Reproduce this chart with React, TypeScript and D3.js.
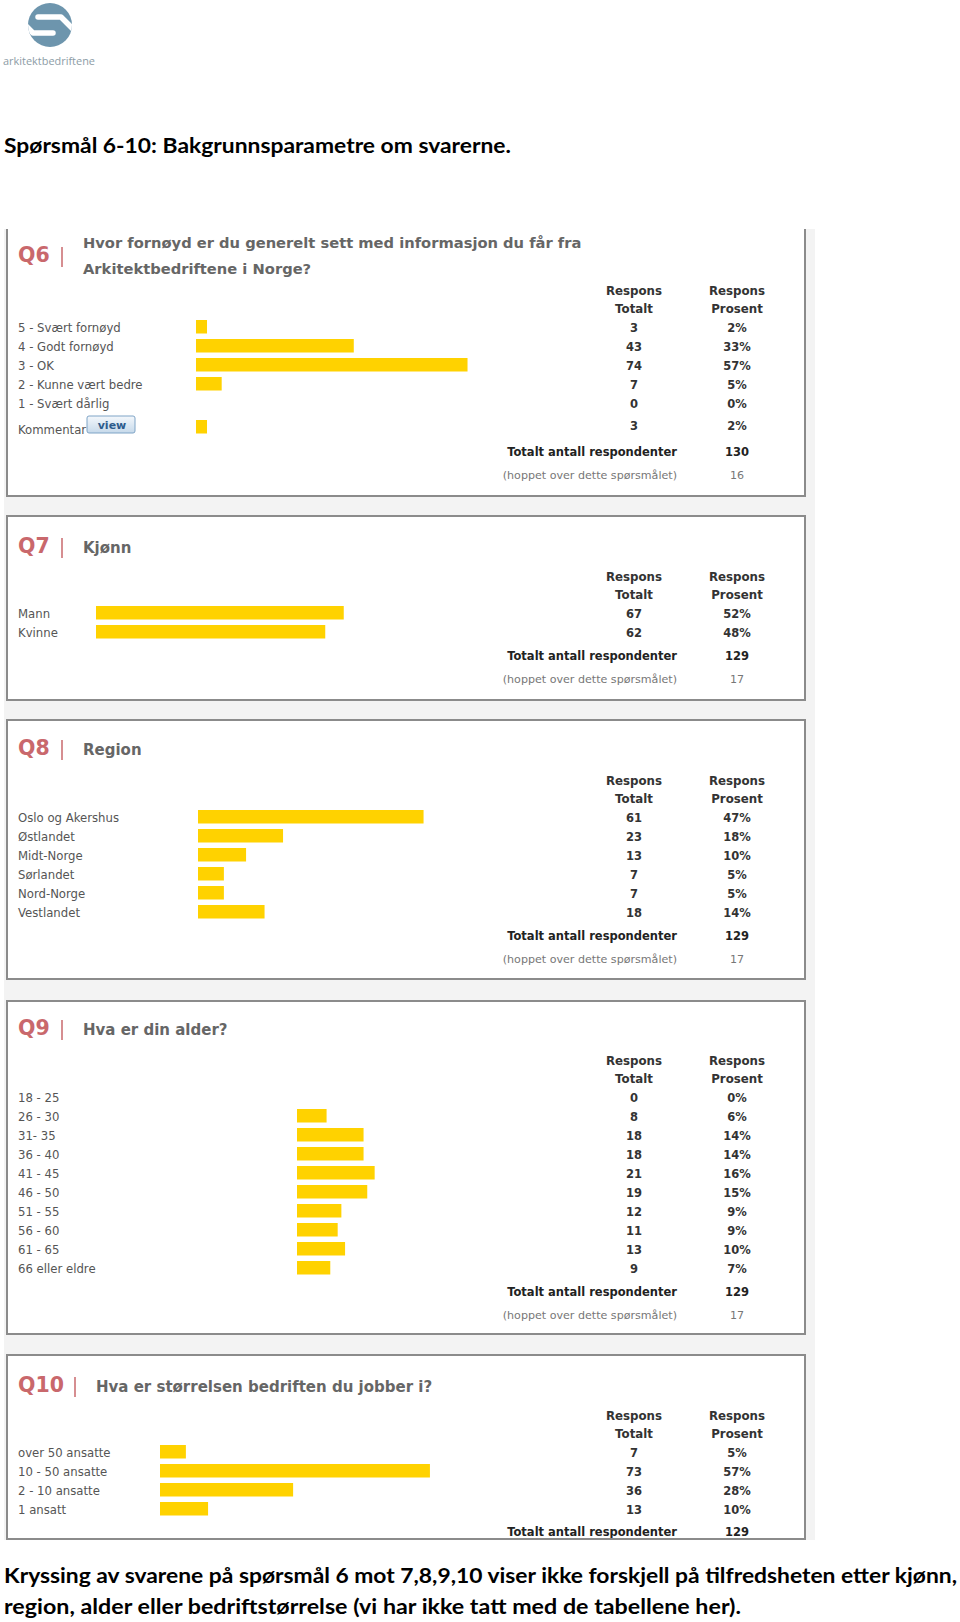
import React from "react";
import * as d3 from "d3";

// ---- data ----
const q6Labels = ["5 - Svært fornøyd", "4 - Godt fornøyd", "3 - OK", "2 - Kunne vært bedre", "1 - Svært dårlig", "Kommentar"];
const q6Values = [3, 43, 74, 7, 0, 3];
const q6Percent = ["2%", "33%", "57%", "5%", "0%", "2%"];
const q6Total = 130;
const q6Skipped = 16;

const q7Labels = ["Mann", "Kvinne"];
const q7Values = [67, 62];
const q7Percent = ["52%", "48%"];
const q7Total = 129;
const q7Skipped = 17;

const q8Labels = ["Oslo og Akershus", "Østlandet", "Midt-Norge", "Sørlandet", "Nord-Norge", "Vestlandet"];
const q8Values = [61, 23, 13, 7, 7, 18];
const q8Percent = ["47%", "18%", "10%", "5%", "5%", "14%"];
const q8Total = 129;
const q8Skipped = 17;

const q9Labels = ["18 - 25", "26 - 30", "31- 35", "36 - 40", "41 - 45", "46 - 50", "51 - 55", "56 - 60", "61 - 65", "66 eller eldre"];
const q9Values = [0, 8, 18, 18, 21, 19, 12, 11, 13, 9];
const q9Percent = ["0%", "6%", "14%", "14%", "16%", "15%", "9%", "9%", "10%", "7%"];
const q9Total = 129;
const q9Skipped = 17;

const q10Labels = ["over 50 ansatte", "10 - 50 ansatte", "2 - 10 ansatte", "1 ansatt"];
const q10Values = [7, 73, 36, 13];
const q10Percent = ["5%", "57%", "28%", "10%"];
const q10Total = 129;

const headline = "Spørsmål 6-10: Bakgrunnsparametre om svarerne.";
const footer = [
  "Kryssing av svarene på spørsmål 6 mot 7,8,9,10 viser ikke forskjell på tilfredsheten etter kjønn,",
  "region, alder eller bedriftstørrelse (vi har ikke tatt med de tabellene her).",
];

// ---- styling ----
const W = 960;
const H = 1622;
const BAR = "#ffd200";
const QRED = "#c9686c";
const FONT = "'DejaVu Sans', Verdana, sans-serif";
const DOC_FONT = "Lato, 'Open Sans', sans-serif";
const ROW = 19;
const FULL = 477; // bar length for 100 %

type PanelCfg = {
  q: string;
  title: string[];
  titleSize?: number;
  labels: string[];
  values: number[];
  percent: string[];
  total: number;
  skipped?: number;
  top: number;
  bottom: number;
  noTop?: boolean;
  qY: number;
  titleY: number[];
  sepX: number;
  titleX: number;
  headY: number;
  firstRow: number;
  barX: number;
  totalY: number;
  skipY?: number;
  commentRow?: number; // index of the taller "Kommentar" row
};

const panels: PanelCfg[] = [
  {
    q: "Q6", title: ["Hvor fornøyd er du generelt sett med informasjon du får fra", "Arkitektbedriftene i Norge?"], titleSize: 14.7,
    labels: q6Labels, values: q6Values, percent: q6Percent, total: q6Total, skipped: q6Skipped,
    top: 229, bottom: 496, noTop: true, qY: 262, titleY: [248, 274], sepX: 62, titleX: 83,
    headY: 295, firstRow: 332, barX: 196, totalY: 456, skipY: 479, commentRow: 5,
  },
  {
    q: "Q7", title: ["Kjønn"], labels: q7Labels, values: q7Values, percent: q7Percent, total: q7Total, skipped: q7Skipped,
    top: 516, bottom: 700, qY: 553, titleY: [553], sepX: 62, titleX: 83,
    headY: 581, firstRow: 618, barX: 96, totalY: 660, skipY: 683,
  },
  {
    q: "Q8", title: ["Region"], labels: q8Labels, values: q8Values, percent: q8Percent, total: q8Total, skipped: q8Skipped,
    top: 720, bottom: 979, qY: 755, titleY: [755], sepX: 62, titleX: 83,
    headY: 785, firstRow: 822, barX: 198, totalY: 940, skipY: 963,
  },
  {
    q: "Q9", title: ["Hva er din alder?"], labels: q9Labels, values: q9Values, percent: q9Percent, total: q9Total, skipped: q9Skipped,
    top: 1001, bottom: 1334, qY: 1035, titleY: [1035], sepX: 62, titleX: 83,
    headY: 1065, firstRow: 1102, barX: 297, totalY: 1296, skipY: 1319,
  },
  {
    q: "Q10", title: ["Hva er størrelsen bedriften du jobber i?"], labels: q10Labels, values: q10Values, percent: q10Percent, total: q10Total,
    top: 1355, bottom: 1539, qY: 1392, titleY: [1392], sepX: 75, titleX: 96,
    headY: 1420, firstRow: 1457, barX: 160, totalY: 1536,
  },
];

const L = 7;
const R = 805;
const COL1 = 634;
const COL2 = 737;
const TOT_END = 677;

function Panel({ p }: { p: PanelCfg }) {
  const x = d3.scaleLinear().domain([0, 1]).range([0, FULL]);
  const y = d3
    .scaleBand<string>()
    .domain(p.labels)
    .range([p.firstRow - 14, p.firstRow - 14 + p.labels.length * ROW]);
  const isComment = (i: number) => p.commentRow === i;
  const base = (l: string) => (y(l) as number) + 14;

  const border = p.noTop
    ? `M${L},${p.top}V${p.bottom}H${R}V${p.top}`
    : `M${L},${p.top}H${R}V${p.bottom}H${L}Z`;

  return (
    <g fontFamily={FONT}>
      <rect x={L} y={p.top} width={R - L} height={p.bottom - p.top} fill="#fff" />
      <text x={18} y={p.qY} fontSize={20.5} fontWeight="bold" fill={QRED}>{p.q}</text>
      <line x1={p.sepX} x2={p.sepX} y1={p.qY - 15} y2={p.qY + 5} stroke={QRED} strokeWidth={1.5} />
      {p.title.map((t, i) => (
        <text key={i} x={p.titleX} y={p.titleY[i]} fontSize={p.titleSize ?? 15} fontWeight="bold" fill="#666">{t}</text>
      ))}

      <g fontSize={11.8} fontWeight="bold" fill="#333" textAnchor="middle">
        <text x={COL1} y={p.headY}>Respons</text>
        <text x={COL1} y={p.headY + 18}>Totalt</text>
        <text x={COL2} y={p.headY}>Respons</text>
        <text x={COL2} y={p.headY + 18}>Prosent</text>
      </g>

      {p.labels.map((l, i) => {
        const b = base(l);
        const labelY = b + (isComment(i) ? 7 : 0);
        const barY = b - 12 + (isComment(i) ? 5 : 0);
        const valY = b + (isComment(i) ? 3 : 0);
        return (
          <g key={l}>
            <text x={18} y={labelY} fontSize={11.7} fill="#555">{l}</text>
            {p.values[i] > 0 && (
              <rect x={p.barX} y={barY} width={x(p.values[i] / p.total)} height={13.5} fill={BAR} />
            )}
            <g fontSize={11.5} fontWeight="bold" fill="#333" textAnchor="middle">
              <text x={COL1} y={valY}>{p.values[i]}</text>
              <text x={COL2} y={valY}>{p.percent[i]}</text>
            </g>
          </g>
        );
      })}

      {p.commentRow !== undefined && (
        <g>
          <defs>
            <linearGradient id="viewGrad" x1="0" x2="0" y1="0" y2="1">
              <stop offset="0" stopColor="#f4f8fc" />
              <stop offset="1" stopColor="#c6d9ea" />
            </linearGradient>
          </defs>
          <rect x={87} y={416} width={48} height={17} rx={2} fill="url(#viewGrad)" stroke="#7fa4c6" strokeWidth={1} />
          <text x={112} y={428.5} fontSize={11} fontWeight="bold" fill="#2d5b8c" textAnchor="middle">view</text>
        </g>
      )}

      <text x={TOT_END} y={p.totalY} fontSize={11.5} fontWeight="bold" fill="#222" textAnchor="end">Totalt antall respondenter</text>
      <text x={COL2} y={p.totalY} fontSize={11.5} fontWeight="bold" fill="#222" textAnchor="middle">{p.total}</text>
      {p.skipped !== undefined && p.skipY !== undefined && (
        <g fontSize={11.1} fill="#777">
          <text x={TOT_END} y={p.skipY} textAnchor="end">(hoppet over dette spørsmålet)</text>
          <text x={COL2} y={p.skipY} textAnchor="middle">{p.skipped}</text>
        </g>
      )}

      <path d={border} fill="none" stroke="#8b8b8b" strokeWidth={2} />
    </g>
  );
}

function Logo() {
  return (
    <g>
      <defs>
        <clipPath id="logoClip">
          <circle cx={50} cy={25} r={22} />
        </clipPath>
      </defs>
      <circle cx={50} cy={25} r={22} fill="#6d95ad" />
      <g clipPath="url(#logoClip)" fill="none" stroke="#fff" strokeWidth={5.5} strokeLinecap="round" strokeLinejoin="round">
        <path d="M38,17H61L74,30" />
        <path d="M24,24L33,33H53" />
      </g>
      <text x={3} y={65} fontFamily="'Open Sans', sans-serif" fontSize={11.5} fill="#8d9ca6" textLength={92} lengthAdjust="spacingAndGlyphs">
        arkitektbedriftene
      </text>
    </g>
  );
}

export default function App() {
  return (
    <svg
      width={W}
      height={H}
      viewBox={`0 0 ${W} ${H}`}
      style={{ position: "absolute", left: 0, top: 0, background: "#fff" }}
    >
      <rect width={W} height={H} fill="#fff" />
      <Logo />
      <text x={4} y={153} fontFamily={DOC_FONT} fontSize={20} fontWeight="bold" fill="#000" textLength={507} lengthAdjust="spacingAndGlyphs">
        {headline}
      </text>

      <rect x={4} y={229} width={811} height={1311} fill="#f3f3f3" />
      {panels.map((p) => (
        <Panel key={p.q} p={p} />
      ))}

      <text x={4} y={1583} fontFamily={DOC_FONT} fontSize={20} fontWeight="bold" fill="#000" textLength={953} lengthAdjust="spacingAndGlyphs">
        {footer[0]}
      </text>
      <text x={4} y={1614} fontFamily={DOC_FONT} fontSize={20} fontWeight="bold" fill="#000" textLength={737} lengthAdjust="spacingAndGlyphs">
        {footer[1]}
      </text>
    </svg>
  );
}
